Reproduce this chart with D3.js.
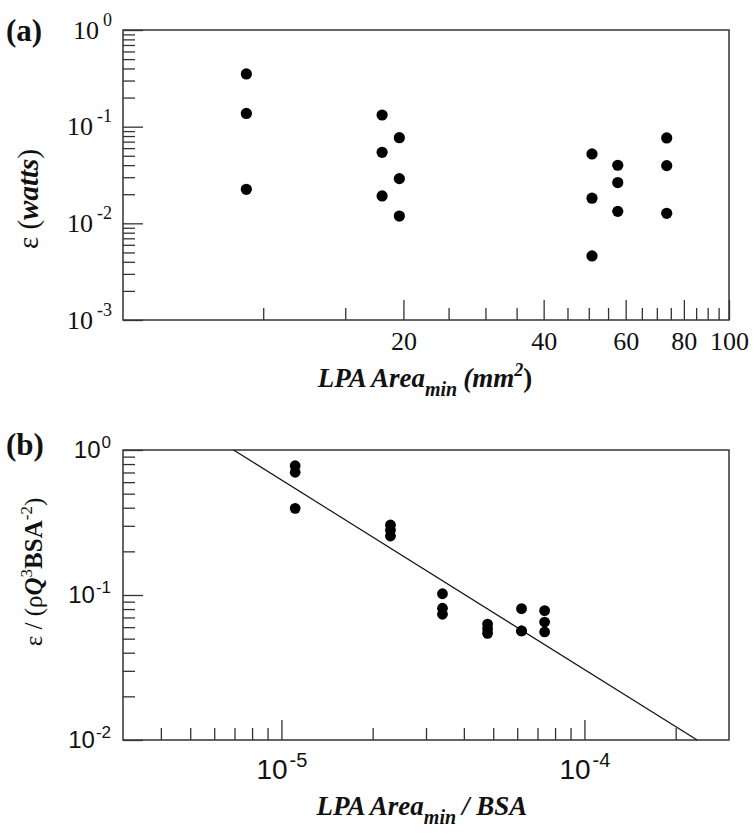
<!DOCTYPE html>
<html>
<head>
<meta charset="utf-8">
<script src="https://cdn.jsdelivr.net/npm/d3@7"></script>
<style>
  html, body { margin: 0; padding: 0; background: #fff; }
  svg { display: block; }
</style>
</head>
<body>
<svg id="chart" width="754" height="838"></svg>
<script>
// ---------------- DATA ----------------
// Panel (a): LPA Area_min (mm^2) vs epsilon (watts)
const areaA = [9.2, 9.2, 9.2, 18.0, 18.0, 18.0, 19.6, 19.6, 19.6,
               50.8, 50.8, 50.8, 57.7, 57.7, 57.7, 73.5, 73.5, 73.5];
const epsA  = [0.351, 0.137, 0.0225, 0.132, 0.0543, 0.0192, 0.0769, 0.029, 0.0119,
               0.0522, 0.0182, 0.0046, 0.0399, 0.0264, 0.0133, 0.0764, 0.0395, 0.0127];

// Panel (b): LPA Area_min / BSA vs normalized epsilon
const ratioB = [1.11e-5, 1.11e-5, 1.11e-5, 2.29e-5, 2.29e-5, 2.29e-5,
                3.40e-5, 3.40e-5, 3.40e-5, 4.79e-5, 4.79e-5, 4.79e-5,
                6.20e-5, 6.20e-5, 6.20e-5, 7.39e-5, 7.39e-5, 7.39e-5];
const epsB   = [0.779, 0.702, 0.396, 0.304, 0.28, 0.255,
                0.102, 0.081, 0.0736, 0.063, 0.0586, 0.0544,
                0.0805, 0.0565, 0.0565, 0.078, 0.0651, 0.0556];

// Fitted power-law line in panel (b)
const fitX = [6.95e-6, 2.355e-4];
const fitY = [1, 0.01];

// Axis ticks
const axMajor = [20, 40, 60, 80, 100];
const axLabels = ["20", "40", "60", "80", "100"];
const axMinor = [10, 15, 25, 30, 35, 45, 50, 55, 65, 70, 75, 85, 90, 95];
const ayMajor = [1e-3, 1e-2, 1e-1, 1];
const ayExp = ["-3", "-2", "-1", "0"];
const bxMajor = [1e-5, 1e-4];
const bxExp = ["-5", "-4"];
const bxMinor = [4e-6, 5e-6, 6e-6, 7e-6, 8e-6, 9e-6, 2e-5, 3e-5, 4e-5, 5e-5, 6e-5, 7e-5, 8e-5, 9e-5, 2e-4];
const byMajor = [1e-2, 1e-1, 1];
const byExp = ["-2", "-1", "0"];

// ---------------- DRAW ----------------
const svg = d3.select("#chart");
const SERIF = "'Liberation Serif', 'Times New Roman', serif";
const SANS = "'Liberation Sans', Arial, sans-serif";
const AX = "#333";

function minorsOf(majors) {
  const out = [];
  majors.slice(0, -1).forEach(m => { for (let k = 2; k <= 9; k++) out.push(m * k); });
  return out;
}

function styleAxis(g) {
  g.select(".domain").remove();
  g.selectAll(".tick line").attr("stroke", AX).attr("stroke-width", 1.3);
}

function supLabels(g, exps, opts) {
  g.selectAll(".tick text").each(function(d, i) {
    const t = d3.select(this);
    t.text(null).attr("font-family", opts.font).attr("font-size", opts.size).attr("fill", "#111");
    t.append("tspan").text("10");
    t.append("tspan").attr("dx", opts.gap).attr("dy", -opts.raise)
      .attr("font-size", opts.supSize).text(exps[i]);
  });
}

// ---- Panel (a) ----
const A = {l: 123, r: 729, t: 30, b: 320};
const xA = d3.scaleLog().domain([5, 100]).range([A.l, A.r]);
const yA = d3.scaleLog().domain([1e-3, 1]).range([A.b, A.t]);

svg.append("rect").attr("x", A.l).attr("y", A.t).attr("width", A.r - A.l).attr("height", A.b - A.t)
  .attr("fill", "none").attr("stroke", AX).attr("stroke-width", 1.5);

// y axis (a)
const gAyMin = svg.append("g").attr("transform", `translate(${A.l},0)`)
  .call(d3.axisLeft(yA).tickValues(minorsOf(ayMajor)).tickSize(-12).tickFormat(""));
styleAxis(gAyMin);
const gAy = svg.append("g").attr("transform", `translate(${A.l},0)`)
  .call(d3.axisLeft(yA).tickValues(ayMajor).tickSize(-20).tickPadding(11));
styleAxis(gAy);
supLabels(gAy, ayExp, {font: SERIF, size: 26, supSize: 18, raise: 13, gap: 4});

// x axis (a)
const gAxMin = svg.append("g").attr("transform", `translate(0,${A.b})`)
  .call(d3.axisBottom(xA).tickValues(axMinor).tickSize(-12).tickFormat(""));
styleAxis(gAxMin);
const gAx = svg.append("g").attr("transform", `translate(0,${A.b})`)
  .call(d3.axisBottom(xA).tickValues(axMajor).tickSize(-20).tickPadding(12)
    .tickFormat((d, i) => axLabels[i]));
styleAxis(gAx);
gAx.selectAll(".tick text").attr("font-family", SERIF).attr("font-size", 26).attr("fill", "#111");

// points (a)
svg.append("g").selectAll("circle").data(areaA).join("circle")
  .attr("cx", d => xA(d)).attr("cy", (d, i) => yA(epsA[i])).attr("r", 5.6).attr("fill", "#000");

// labels (a)
svg.append("text").attr("x", 6).attr("y", 41).attr("font-family", SERIF).attr("font-weight", "bold")
  .attr("font-size", 31).attr("fill", "#111").text("(a)");

const ylA = svg.append("text").attr("transform", "translate(38,199) rotate(-90)")
  .attr("text-anchor", "middle").attr("font-family", SERIF).attr("font-weight", "bold")
  .attr("font-size", 29).attr("fill", "#111");
ylA.append("tspan").attr("font-weight", "normal").text("ε (");
ylA.append("tspan").attr("font-style", "italic").text("watts");
ylA.append("tspan").attr("font-weight", "normal").text(")");

const xlA = svg.append("text").attr("x", 425).attr("y", 387).attr("text-anchor", "middle")
  .attr("font-family", SERIF).attr("font-weight", "bold").attr("font-style", "italic")
  .attr("font-size", 27).attr("fill", "#111");
xlA.append("tspan").text("LPA Area");
xlA.append("tspan").attr("dy", 9).attr("font-size", 20).text("min");
xlA.append("tspan").attr("dy", -9).attr("dx", 6).text("(mm");
xlA.append("tspan").attr("dy", -11).attr("font-size", 18).text("2");
xlA.append("tspan").attr("dy", 11).attr("font-style", "normal").text(")");

// ---- Panel (b) ----
const B = {l: 123, r: 729, t: 450, b: 740};
const xB = d3.scaleLog().domain([3e-6, 3e-4]).range([B.l, B.r]);
const yB = d3.scaleLog().domain([1e-2, 1]).range([B.b, B.t]);

svg.append("rect").attr("x", B.l).attr("y", B.t).attr("width", B.r - B.l).attr("height", B.b - B.t)
  .attr("fill", "none").attr("stroke", AX).attr("stroke-width", 1.5);

const gByMin = svg.append("g").attr("transform", `translate(${B.l},0)`)
  .call(d3.axisLeft(yB).tickValues(minorsOf(byMajor)).tickSize(-12).tickFormat(""));
styleAxis(gByMin);
const gBy = svg.append("g").attr("transform", `translate(${B.l},0)`)
  .call(d3.axisLeft(yB).tickValues(byMajor).tickSize(-20).tickPadding(12));
styleAxis(gBy);
supLabels(gBy, byExp, {font: SANS, size: 24, supSize: 17, raise: 10, gap: 1});

const gBxMin = svg.append("g").attr("transform", `translate(0,${B.b})`)
  .call(d3.axisBottom(xB).tickValues(bxMinor).tickSize(-12).tickFormat(""));
styleAxis(gBxMin);
const gBx = svg.append("g").attr("transform", `translate(0,${B.b})`)
  .call(d3.axisBottom(xB).tickValues(bxMajor).tickSize(-20).tickPadding(19));
styleAxis(gBx);
supLabels(gBx, bxExp, {font: SANS, size: 28, supSize: 20, raise: 12, gap: 2});

// fit line
const lineB = d3.line().x(d => xB(d[0])).y(d => yB(d[1]));
svg.append("path").datum(fitX.map((x, i) => [x, fitY[i]]))
  .attr("d", lineB).attr("fill", "none").attr("stroke", "#111").attr("stroke-width", 1.2);

// points (b)
svg.append("g").selectAll("circle").data(ratioB).join("circle")
  .attr("cx", d => xB(d)).attr("cy", (d, i) => yB(epsB[i])).attr("r", 5.4).attr("fill", "#000");

svg.append("text").attr("x", 6).attr("y", 455).attr("font-family", SERIF).attr("font-weight", "bold")
  .attr("font-size", 31).attr("fill", "#111").text("(b)");

const ylB = svg.append("text").attr("transform", "translate(42,572) rotate(-90)")
  .attr("text-anchor", "middle").attr("font-family", SERIF)
  .attr("font-size", 25).attr("fill", "#111");
ylB.append("tspan").text("ε / (ρ");
ylB.append("tspan").attr("font-weight", "bold").attr("font-style", "italic").text("Q");
ylB.append("tspan").attr("dy", -10).attr("font-size", 17).text("3");
ylB.append("tspan").attr("dy", 10).attr("font-weight", "bold").text("BSA");
ylB.append("tspan").attr("dy", -10).attr("font-size", 17).text("-2");
ylB.append("tspan").attr("dy", 10).text(")");

const xlB = svg.append("text").attr("x", 422).attr("y", 815).attr("text-anchor", "middle")
  .attr("font-family", SERIF).attr("font-weight", "bold").attr("font-style", "italic")
  .attr("font-size", 27).attr("fill", "#111");
xlB.append("tspan").text("LPA Area");
xlB.append("tspan").attr("dy", 9).attr("font-size", 20).text("min");
xlB.append("tspan").attr("dy", -9).attr("dx", 6).text("/ BSA");
</script>
</body>
</html>
